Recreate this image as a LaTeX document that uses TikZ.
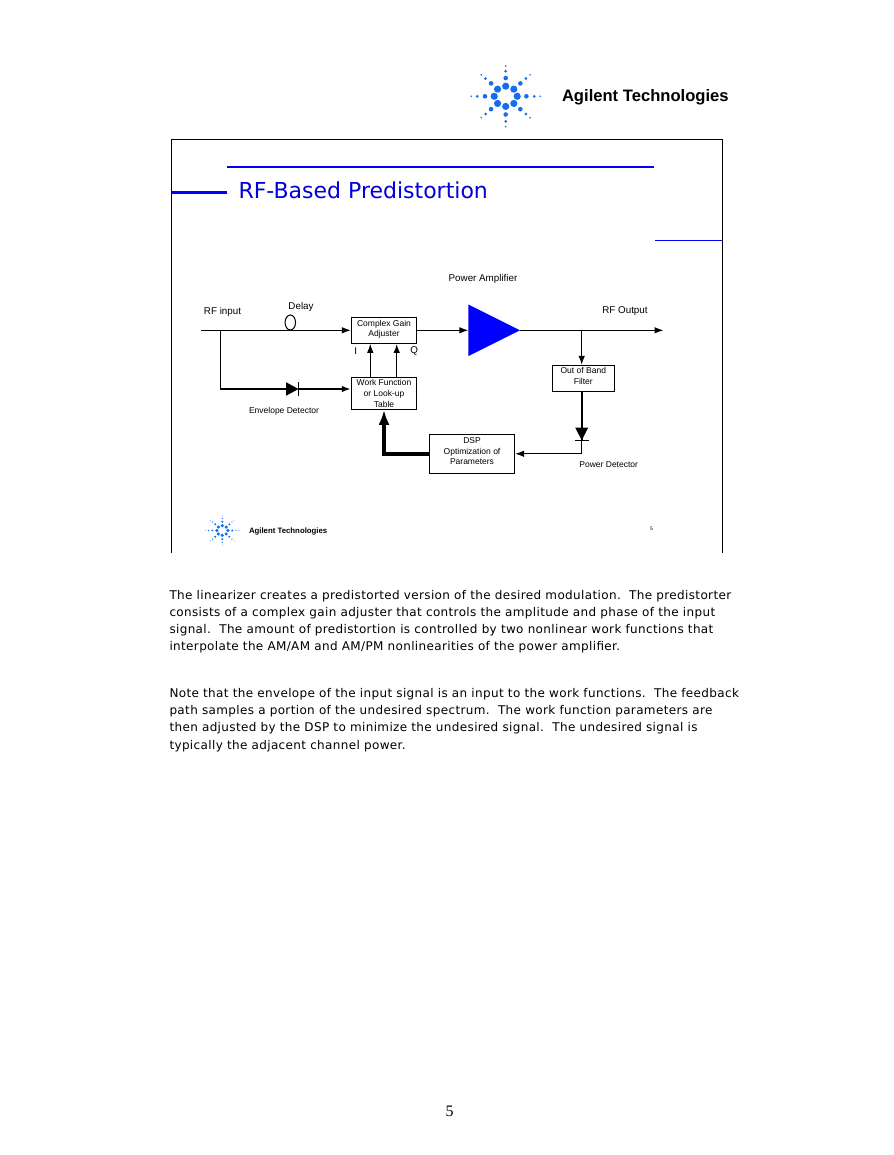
\documentclass[tikz,border=0pt]{standalone}
\usepackage{fontspec}
\usepackage{xcolor}
\setmainfont{Liberation Sans}
\newfontfamily\slidefont{DejaVu Sans}
\newfontfamily\bodyfont[LetterSpace=3]{DejaVu Sans}
\newfontfamily\pagefont{Liberation Serif}
\usetikzlibrary{arrows.meta, positioning, shapes.geometric}
\definecolor{slideblue}{RGB}{0,0,255}
\definecolor{titleblue}{RGB}{0,0,215}
\definecolor{burstblue}{RGB}{20,110,235}
\tikzset{
  blockbox/.style={draw, rectangle, inner sep=0pt, align=center, font=\fontsize{8.5}{10.6}\selectfont},
  plainlabel/.style={inner sep=0pt, font=\fontsize{9.8}{11}\selectfont},
  diode/.style={isosceles triangle, isosceles triangle stretches, inner sep=0pt, outer sep=0pt, anchor=apex, fill=black},
  thinarrow/.style={-{Latex[length=9pt,width=6.5pt]}},
  logoburst/.pic={
    \foreach \ang in {0,45,...,315}
      \foreach \dist/\rad in {11.5/3.6, 20.7/2.3, 28.5/1.5, 34.5/.9}
        \fill[burstblue] ({cos(\ang)*\dist},{sin(\ang)*\dist*.88}) circle (\rad);
  }
}
\begin{document}
\begin{tikzpicture}[x=1pt, y=-1pt, line width=1pt]
    \useasboundingbox (0,0) rectangle (893,1155);

    % Logos
    \pic at (505.7,96.3) {logoburst};
    \node (toplogo) [anchor=west, inner sep=0pt, font=\fontsize{16.6}{18}\selectfont\bfseries] at (561.5,97.5) {Agilent Technologies};
    \pic [scale=.48] at (222.3,530.5) {logoburst};
    \node (lowlogo) [anchor=west, inner sep=0pt, font=\fontsize{7.8}{10}\selectfont\bfseries] at (248.5,531) {Agilent Technologies};

    % Slide frame and rules
    \draw (171.5,553) -- (171.5,139.5) -- (722,139.5) -- (722,553);
    \draw[slideblue, line width=1.5pt] (227,167) -- (654,167);
    \draw[slideblue, line width=3pt] (172,192.5) -- (227,192.5);
    \draw[slideblue] (655,240.5) -- (722,240.5);
    \node (title) [anchor=west, inner sep=0pt, text=titleblue, font=\slidefont\fontsize{22}{26}\selectfont] at (238,190) {RF-Based Predistortion};

    % Components
    \node (cga) [blockbox, minimum width=65.4pt, minimum height=26pt, text depth=4pt] at (384,330.3) {Complex Gain\\Adjuster};
    \node (wf) [blockbox, minimum width=65.4pt, minimum height=31.6pt, below=33.4pt of cga] {Work Function\\or Look-up\\Table};
    \node (amp) [isosceles triangle, isosceles triangle stretches, inner sep=0pt, outer sep=0pt, anchor=apex, minimum width=51.7pt, minimum height=51.7pt, fill=slideblue] at (520,330.3) {};
    \node (filter) [blockbox, minimum width=62pt, minimum height=26pt, text depth=4.5pt] at (583.3,378.3) {Out of Band\\Filter};
    \node (dsp) [blockbox, minimum width=85.4pt, minimum height=39pt, text depth=5.5pt] at (472,453.8) {DSP\\Optimization of\\Parameters};
    \node (delay) [draw, ellipse, inner sep=0pt, minimum width=10.5pt, minimum height=15pt] at (290.3,322.5) {};
    \node (envdiode) [diode, minimum width=13.4pt, minimum height=12.3pt] at (298.5,389) {};
    \node (powdiode) [diode, shape border rotate=270, minimum width=13pt, minimum height=12.7pt] at (581.7,440.3) {};
    \coordinate (rfin) at (201,330.3);
    \coordinate (split) at (220.3,330.3);
    \coordinate (tap) at (581.7,330.3);
    \coordinate (rfout) at (663.5,330.3);

    % Labels
    \node (rfinlabel) [plainlabel] at (222.5,311.5) {RF input};
    \node (delaylabel) [plainlabel] at (301,306.5) {Delay};
    \node (amplabel) [plainlabel] at (483,279) {Power Amplifier};
    \node (rfoutlabel) [plainlabel] at (625,311) {RF Output};
    \node (ilabel) [plainlabel] at (355.7,350.7) {I};
    \node (qlabel) [plainlabel] at (414.3,350.7) {Q};
    \node (envlabel) [plainlabel, font=\fontsize{8.5}{10}\selectfont] at (284,411) {Envelope Detector};
    \node (powlabel) [plainlabel, font=\fontsize{8.5}{10}\selectfont] at (608.7,464.5) {Power Detector};
    \node (slidenum) [plainlabel, font=\fontsize{5}{6}\selectfont] at (651.5,528.5) {5};

    % Arrows
    \draw[thinarrow] (rfin) -- (cga.west);
    \draw[thinarrow] (cga.east) -- (amp.west);
    \draw (amp.apex) -- (tap);
    \draw[thinarrow] (tap) -- (rfout);
    \draw[thinarrow] (tap) -- (tap |- filter.north);
    \draw (split) -- (split |- envdiode.west);
    \draw[line width=1.6pt] (split |- envdiode.west) -- (envdiode.west);
    \draw[line width=1.6pt, -{Latex[length=9pt,width=6.5pt]}] (envdiode.apex) -- (envdiode.apex -| wf.west);
    \draw[line width=1.3pt] ([yshift=-7.2pt]envdiode.apex) -- ([yshift=7.2pt]envdiode.apex);
    \draw[thinarrow] ([xshift=-13.7pt]wf.north) -- ([xshift=-13.7pt]cga.south);
    \draw[line width=1.5pt, -{Latex[length=9pt,width=6.5pt]}] ([xshift=12.7pt]wf.north) -- ([xshift=12.7pt]cga.south);
    \draw[line width=2pt] (powdiode.apex |- filter.south) -- (powdiode.apex);
    \draw[line width=1.3pt] ([xshift=-7pt]powdiode.apex) -- ([xshift=7pt]powdiode.apex);
    \draw[thinarrow] (powdiode.apex) |- (dsp.east);
    \draw[line width=3.5pt, -{Latex[length=15pt,width=11pt]}] (dsp.west) -| (wf.south);

    % Page text
    \node (para1) [anchor=north west, inner sep=0pt, align=left, font=\bodyfont\fontsize{12}{17}\selectfont] at (169,590) {The linearizer creates a predistorted version of the desired modulation.\ \ The predistorter\\consists of a complex gain adjuster that controls the amplitude and phase of the input\\signal.\ \ The amount of predistortion is controlled by two nonlinear work functions that\\interpolate the AM/AM and AM/PM nonlinearities of the power amplifier.};
    \node (para2) [anchor=north west, inner sep=0pt, align=left, font=\bodyfont\fontsize{12}{17.3}\selectfont] at (169,687.5) {Note that the envelope of the input signal is an input to the work functions.\ \ The feedback\\path samples a portion of the undesired spectrum.\ \ The work function parameters are\\then adjusted by the DSP to minimize the undesired signal.\ \ The undesired signal is\\typically the adjacent channel power.};
    \node (pagenum) [inner sep=0pt, font=\pagefont\fontsize{16}{18}\selectfont] at (449.5,1111) {5};
\end{tikzpicture}
\end{document}
